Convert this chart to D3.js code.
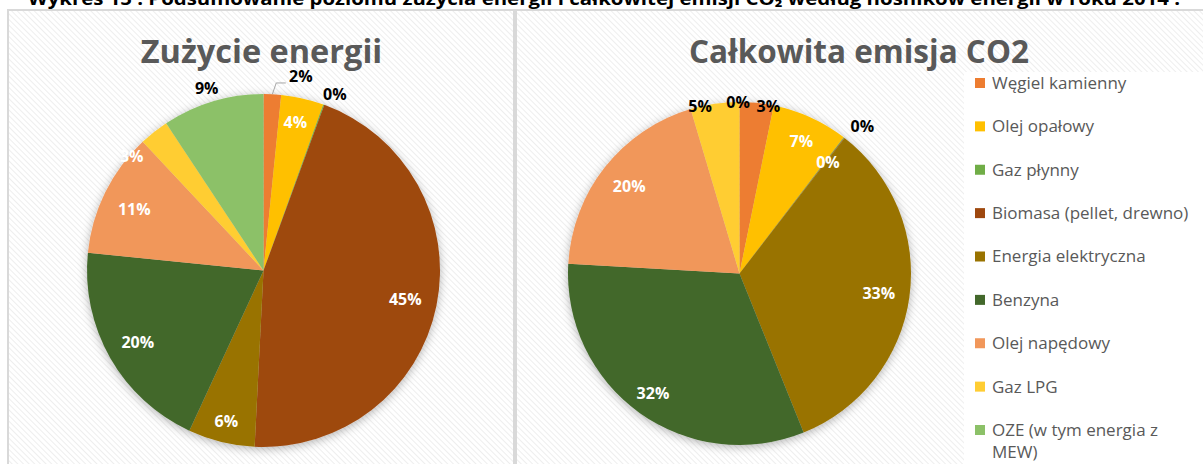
<!DOCTYPE html>
<html>
<head>
<meta charset="utf-8">
<script src="https://cdn.jsdelivr.net/npm/d3@7"></script>
<style>
  body { margin: 0; background: #fff; }
  svg { display: block; }
</style>
</head>
<body>
<div id="chart"></div>
<script>
// data (shares in %)
var categories = ["Węgiel kamienny", "Olej opałowy", "Gaz płynny", "Biomasa (pellet, drewno)",
                  "Energia elektryczna", "Benzyna", "Olej napędowy", "Gaz LPG", "OZE (w tym energia z MEW)"];
var energyShare   = [1.6, 3.9, 0.1, 45.2, 6.1, 19.7, 11.4, 2.7, 9.3];
var emissionShare = [3.2, 7.2, 0.05, 0.05, 33.4, 32.0, 19.5, 4.6, 0.0];
var chartTitles = ["Zużycie energii", "Całkowita emisja CO2"];
var headerText = "Wykres 15 : Podsumowanie poziomu zużycia energii i całkowitej emisji CO\u2082 według nośników energii w roku 2014 :";

var colors = ["#ED7D31", "#FFC000", "#70AD47", "#9E480E", "#997300", "#43682B", "#F1975A", "#FFCD33", "#8CC168"];

// label placement (radius factor, angle nudge in degrees, dark text or not)
var energyLabels = [
    {r: 1.12, da: 8, dark: true, leader: true},
    {r: 0.86, da: -0.7},
    {r: 1.08, da: 2, dark: true},
    {r: 0.82, da: 0},
    {r: 0.88, da: 0},
    {r: 0.82, da: 0},
    {r: 0.81, da: -1},
    {r: 0.99, da: -10.6},
    {r: 1.08, da: -0.6, dark: true}
];
var emissionLabels = [
    {r: 0.99, da: 4, dark: true},
    {r: 0.85, da: 0.6},
    {r: 1.12, da: 2.2, dark: true},
    {r: 0.83, da: 0.7},
    {r: 0.82, da: 0},
    {r: 0.86, da: 0.3},
    {r: 0.82, da: 0},
    {r: 1.0, da: -5, dark: true},
    {r: 1.0, da: -0.5, dark: true}
];

var W = 1203, H = 464;
var font = "'Open Sans', 'Noto Sans', sans-serif";

var svg = d3.select("#chart").append("svg")
    .attr("width", W)
    .attr("height", H);

var defs = svg.append("defs");
var pat = defs.append("pattern")
    .attr("id", "hatch")
    .attr("width", 4).attr("height", 4)
    .attr("patternUnits", "userSpaceOnUse")
    .attr("patternTransform", "rotate(-45)");
pat.append("rect").attr("width", 4).attr("height", 4).attr("fill", "#fff");
pat.append("line").attr("x1", 0).attr("y1", 0).attr("x2", 0).attr("y2", 4)
    .attr("stroke", "#eeeeee").attr("stroke-width", 2);

var shadow = defs.append("filter").attr("id", "shadow")
    .attr("x", "-20%").attr("y", "-20%").attr("width", "140%").attr("height", "140%");
shadow.append("feDropShadow")
    .attr("dx", 0).attr("dy", 2)
    .attr("stdDeviation", 5)
    .attr("flood-color", "#000")
    .attr("flood-opacity", 0.3);

// header (cut off at the top in the original)
svg.append("text")
    .attr("x", 604).attr("y", 5)
    .attr("text-anchor", "middle")
    .attr("font-family", font)
    .attr("font-weight", "bold")
    .attr("font-size", 18)
    .attr("textLength", 1152)
    .attr("lengthAdjust", "spacingAndGlyphs")
    .attr("fill", "#000")
    .text(headerText);

// panels
var panels = [
    {x: 8, y: 10, w: 506, h: 470},
    {x: 516, y: 10, w: 700, h: 470}
];
svg.selectAll(".panel")
    .data(panels)
    .enter().append("rect")
        .attr("class", "panel")
        .attr("x", function(d){ return d.x; })
        .attr("y", function(d){ return d.y; })
        .attr("width", function(d){ return d.w; })
        .attr("height", function(d){ return d.h; })
        .attr("fill", "url(#hatch)")
        .attr("stroke", "#d9d9d9")
        .attr("stroke-width", 2);

// legend box
svg.append("rect")
    .attr("x", 964).attr("y", 72)
    .attr("width", 250).attr("height", 400)
    .attr("fill", "#fff");

var pie = d3.pie().sort(null).value(function(d){ return d; });

function drawPie(values, layout, cx, cy, R, title, titleX, titleSize){
    var g = svg.append("g").attr("transform", "translate(" + cx + "," + cy + ")");
    var arc = d3.arc().innerRadius(0).outerRadius(R);
    var arcs = pie(values);

    g.append("g")
        .attr("filter", "url(#shadow)")
        .selectAll("path")
        .data(arcs)
        .enter().append("path")
            .attr("d", arc)
            .attr("fill", function(d, i){ return colors[i]; });

    function polar(a, r){ return [r * Math.sin(a), -r * Math.cos(a)]; }

    arcs.forEach(function(d, i){
        var L = layout[i];
        var mid = (d.startAngle + d.endAngle) / 2;
        var a = mid + L.da * Math.PI / 180;
        var p = polar(a, L.r * R);
        var txt = Math.round(d.data) + "%";
        if (L.leader) {
            var p0 = polar(mid, R);
            var p1 = polar(mid + 1 * Math.PI / 180, R * 1.065);
            var p2 = [p[0] - 15, p1[1]];
            g.append("path")
                .attr("d", d3.line()([p0, p1, p2]))
                .attr("fill", "none")
                .attr("stroke", "#a6a6a6")
                .attr("stroke-width", 1);
        }
        g.append("text")
            .attr("x", p[0]).attr("y", p[1])
            .attr("dy", "0.36em")
            .attr("text-anchor", "middle")
            .attr("font-family", font)
            .attr("font-weight", "bold")
            .attr("font-size", 16)
            .attr("fill", L.dark ? "#000" : "#fff")
            .text(txt);
    });

    svg.append("text")
        .attr("x", titleX).attr("y", 63)
        .attr("text-anchor", "middle")
        .attr("font-family", font)
        .attr("font-weight", "bold")
        .attr("font-size", titleSize)
        .attr("fill", "#595959")
        .text(title);
}

drawPie(energyShare, energyLabels, 263.5, 270.5, 176.5, chartTitles[0], 261.5, 32.5);
drawPie(emissionShare, emissionLabels, 739.5, 273.5, 171.5, chartTitles[1], 859, 31.5);

// legend
var legendY = d3.scalePoint().domain(categories).range([83, 430]);
var items = svg.append("g").selectAll(".item")
    .data(categories)
    .enter().append("g")
        .attr("class", "item")
        .attr("transform", function(d){ return "translate(975," + legendY(d) + ")"; });
items.append("rect")
    .attr("x", 0).attr("y", -5)
    .attr("width", 10).attr("height", 10)
    .attr("fill", function(d, i){ return colors[i]; });
items.append("text")
    .attr("x", 17).attr("y", 0)
    .attr("font-family", font)
    .attr("font-size", 17)
    .attr("fill", "#595959")
    .each(function(d){
        var t = d3.select(this);
        var parts = d === "OZE (w tym energia z MEW)" ? ["OZE (w tym energia z", "MEW)"] : [d];
        parts.forEach(function(s, k){
            t.append("tspan").attr("x", 17).attr("dy", k === 0 ? "0.35em" : "1.3em").text(s);
        });
    });
</script>
</body>
</html>
